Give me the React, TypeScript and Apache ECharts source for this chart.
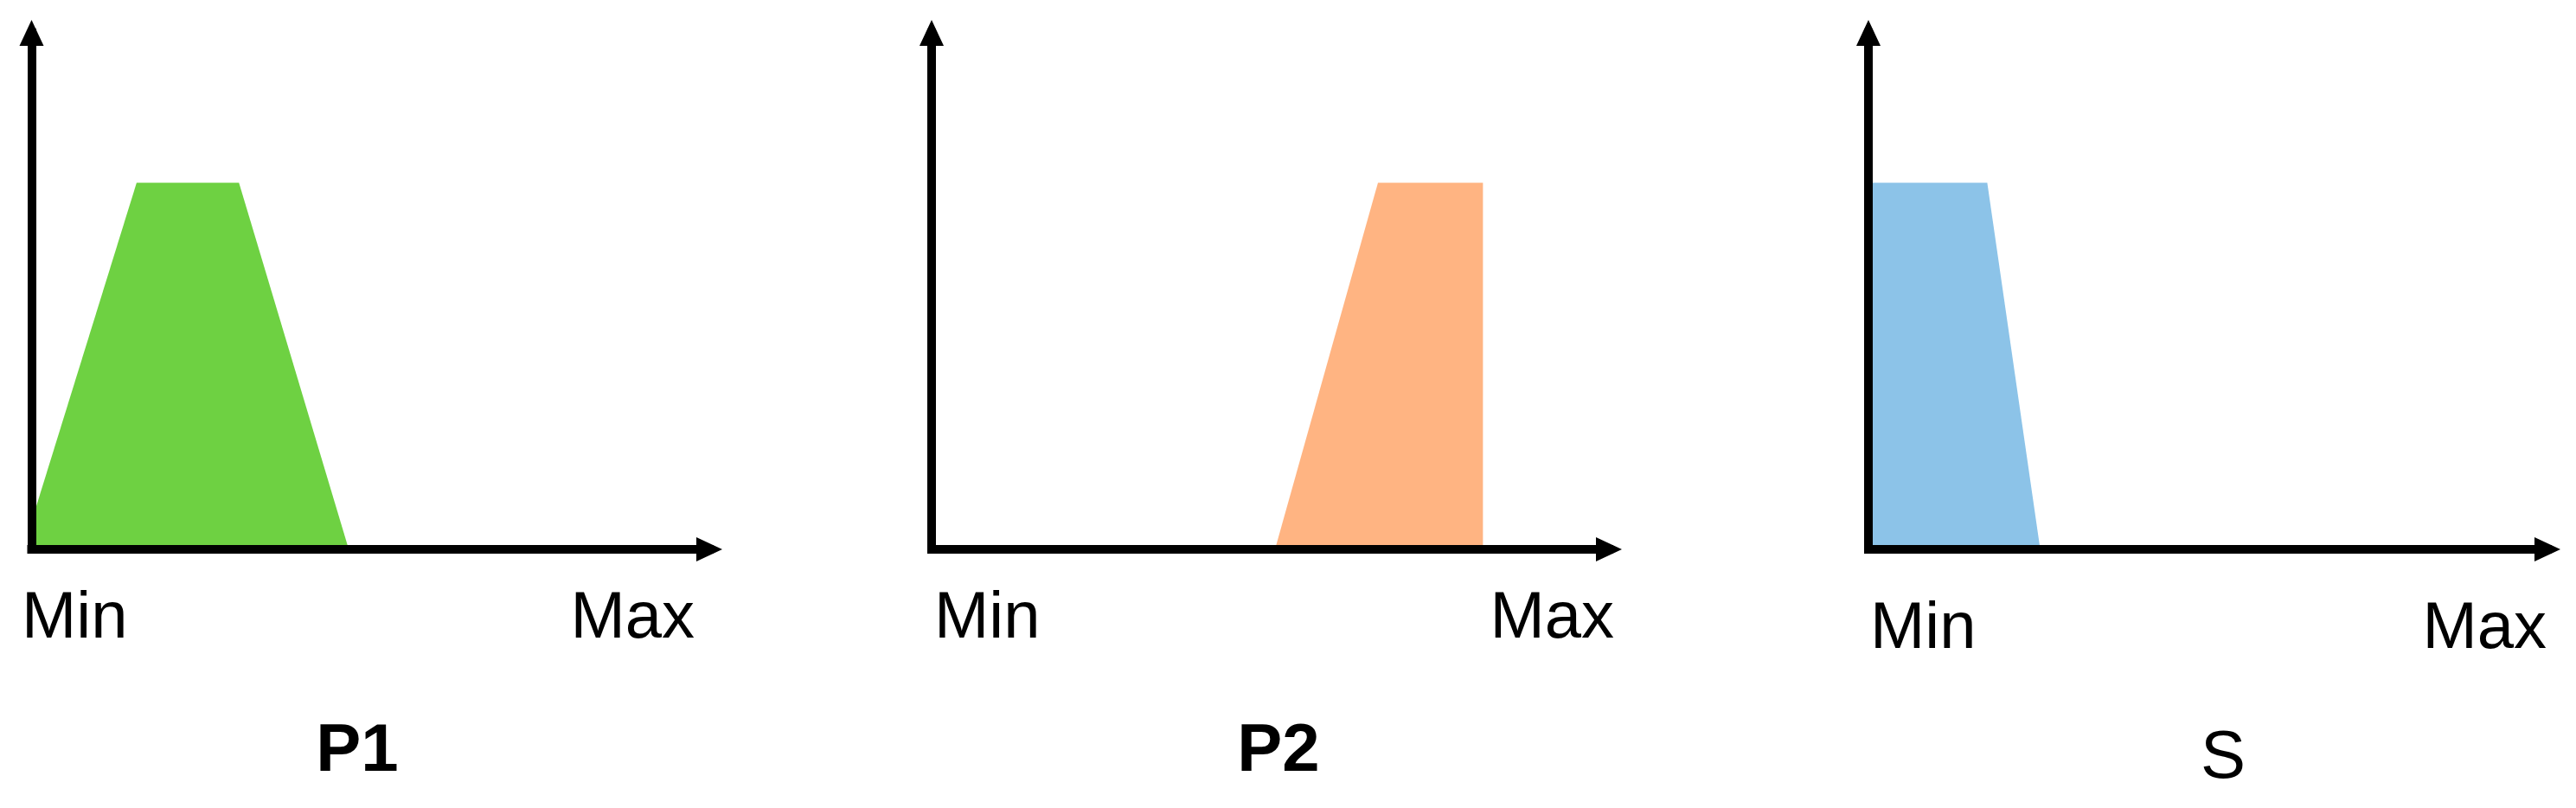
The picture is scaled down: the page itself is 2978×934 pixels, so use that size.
import React, { useEffect, useRef } from "react";
import * as echarts from "echarts";

// ---- data ----
const panelTitles = ["P1", "P2", "S"];
const axisEndLabels = ["Min", "Max"];

const p1X = [0, 15.5, 30.6, 46.8];
const p1Y = [5.4, 71, 71, 0];
const p2X = [50.7, 65.9, 81.4, 81.4];
const p2Y = [0, 71, 71, 0];
const sX = [0, 17.5, 25.3];
const sY = [71, 71, 0];

const seriesX = [p1X, p2X, sX];
const seriesY = [p1Y, p2Y, sY];

// ---- styles / layout ----
const colors = ["#6ED142", "#FFB482", "#8CC3E8"];
const grids = [
  { left: 36.5, width: 783.5 },
  { left: 1077, width: 783 },
  { left: 2160, width: 785 },
];
const gridTop = 38;
const gridHeight = 597;
const labelPos = [
  { minX: 25, maxX: 803, y: 710, titleX: 413, titleY: 864, bold: true },
  { minX: 1080, maxX: 1866, y: 710, titleX: 1478, titleY: 864, bold: true },
  { minX: 2162, maxX: 2944, y: 722, titleX: 2570, titleY: 872, bold: false },
];
const FONT = "'Liberation Sans', Arial, Helvetica, sans-serif";

export default function App() {
  const ref = useRef<HTMLDivElement>(null);
  useEffect(() => {
    if (!ref.current) return;
    const chart = echarts.init(ref.current, undefined, { renderer: "svg" });
    const axisLine = {
      show: true,
      onZero: true,
      symbol: ["none", "triangle"],
      symbolSize: [28, 30],
      lineStyle: { color: "#000", width: 10, cap: "square" },
    };
    const graphics: any[] = [];
    labelPos.forEach((p, i) => {
      graphics.push({
        type: "text",
        x: p.minX,
        y: p.y,
        style: {
          text: axisEndLabels[0],
          fontSize: 76,
          fontFamily: FONT,
          fill: "#000",
          align: "left",
          verticalAlign: "middle",
        },
      });
      graphics.push({
        type: "text",
        x: p.maxX,
        y: p.y,
        style: {
          text: axisEndLabels[1],
          fontSize: 76,
          fontFamily: FONT,
          fill: "#000",
          align: "right",
          verticalAlign: "middle",
        },
      });
      graphics.push({
        type: "text",
        x: p.titleX,
        y: p.titleY,
        style: {
          text: panelTitles[i],
          fontSize: 78,
          fontWeight: p.bold ? "bold" : "normal",
          fontFamily: FONT,
          fill: "#000",
          align: "center",
          verticalAlign: "middle",
        },
      });
    });
    chart.setOption({
      animation: false,
      backgroundColor: "#fff",
      grid: grids.map((g) => ({
        left: g.left,
        width: g.width,
        top: gridTop,
        height: gridHeight,
        containLabel: false,
        outerBoundsMode: "none",
      })),
      xAxis: grids.map((_, i) => ({
        type: "value",
        gridIndex: i,
        min: 0,
        max: 100,
        z: 10,
        axisLine,
        axisTick: { show: false },
        axisLabel: { show: false },
        splitLine: { show: false },
      })),
      yAxis: grids.map((_, i) => ({
        type: "value",
        gridIndex: i,
        min: 0,
        max: 100,
        z: 10,
        axisLine,
        axisTick: { show: false },
        axisLabel: { show: false },
        splitLine: { show: false },
      })),
      series: seriesX.map((xs, i) => ({
        type: "line",
        xAxisIndex: i,
        yAxisIndex: i,
        z: 1,
        symbol: "none",
        silent: true,
        data: xs.map((x, j) => [x, seriesY[i][j]]),
        lineStyle: { width: 0, opacity: 0 },
        areaStyle: { color: colors[i], opacity: 1 },
      })),
      graphic: graphics,
    });
    return () => chart.dispose();
  }, []);
  return (
    <div
      ref={ref}
      style={{ position: "fixed", left: 0, top: 0, width: 2978, height: 934, background: "#fff" }}
    />
  );
}
